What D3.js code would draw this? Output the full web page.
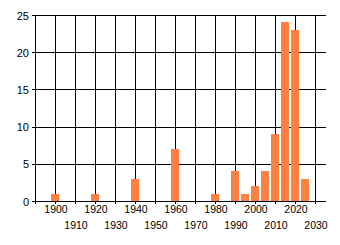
<!DOCTYPE html>
<html><head><meta charset="utf-8">
<script src="https://cdn.jsdelivr.net/npm/d3@7"></script>
<style>
html,body{margin:0;padding:0;background:#fff;}
svg{display:block;}
text{font-family:"Liberation Sans",Arial,sans-serif;font-size:10.5px;fill:#000;}
</style></head><body>
<svg id="c" width="340" height="245"></svg>
<script>
const years=[1900,1920,1940,1960,1980,1990,1995,2000,2005,2010,2015,2020,2025];
const counts=[1,1,3,7,1,4,1,2,4,9,24,23,3];
const xTicks=[1890,1900,1910,1920,1930,1940,1950,1960,1970,1980,1990,2000,2010,2020,2030];
const xLabels=[1900,1910,1920,1930,1940,1950,1960,1970,1980,1990,2000,2010,2020,2030];
const yTicks=[0,5,10,15,20,25];

const svg=d3.select("#c");
const L=35,R=326,T=15,B=201;
const x=d3.scaleLinear().domain([1890,2035.5]).range([L,R]);
const y=d3.scaleLinear().domain([0,25]).range([B,T]);

const g=svg.append("g").attr("shape-rendering","crispEdges");
// horizontal gridlines
g.selectAll("line.h").data(yTicks).enter().append("line")
 .attr("x1",L-3).attr("x2",R).attr("y1",d=>y(d)+0.5).attr("y2",d=>y(d)+0.5)
 .attr("stroke","#000").attr("stroke-width",1);
// vertical gridlines
g.selectAll("line.v").data(xTicks).enter().append("line")
 .attr("y1",T).attr("y2",B+3).attr("x1",d=>x(d)+0.5).attr("x2",d=>x(d)+0.5)
 .attr("stroke","#000").attr("stroke-width",1);
// bars
g.selectAll("rect").data(years).enter().append("rect")
 .attr("x",d=>x(d-2)).attr("width",d=>x(d+2)-x(d-2))
 .attr("y",(d,i)=>y(counts[i])).attr("height",(d,i)=>B-y(counts[i]))
 .attr("fill","#ff8040");

// y axis labels
const ya=svg.append("g").attr("transform",`translate(${L},0.5)`)
 .call(d3.axisLeft(y).tickValues(yTicks).tickSize(0).tickPadding(6));
ya.select(".domain").remove();
ya.selectAll("text").style("font-size","11px");

// x axis labels (staggered)
const xa=svg.append("g").attr("transform",`translate(0.5,${B})`)
 .call(d3.axisBottom(x).tickValues(xLabels).tickSize(0).tickFormat(d3.format("d")));
xa.select(".domain").remove();
xa.selectAll("text").attr("y",(d,i)=> i%2===0 ? 4.5 : 20.5).attr("dy","0.71em");
</script></body></html>
